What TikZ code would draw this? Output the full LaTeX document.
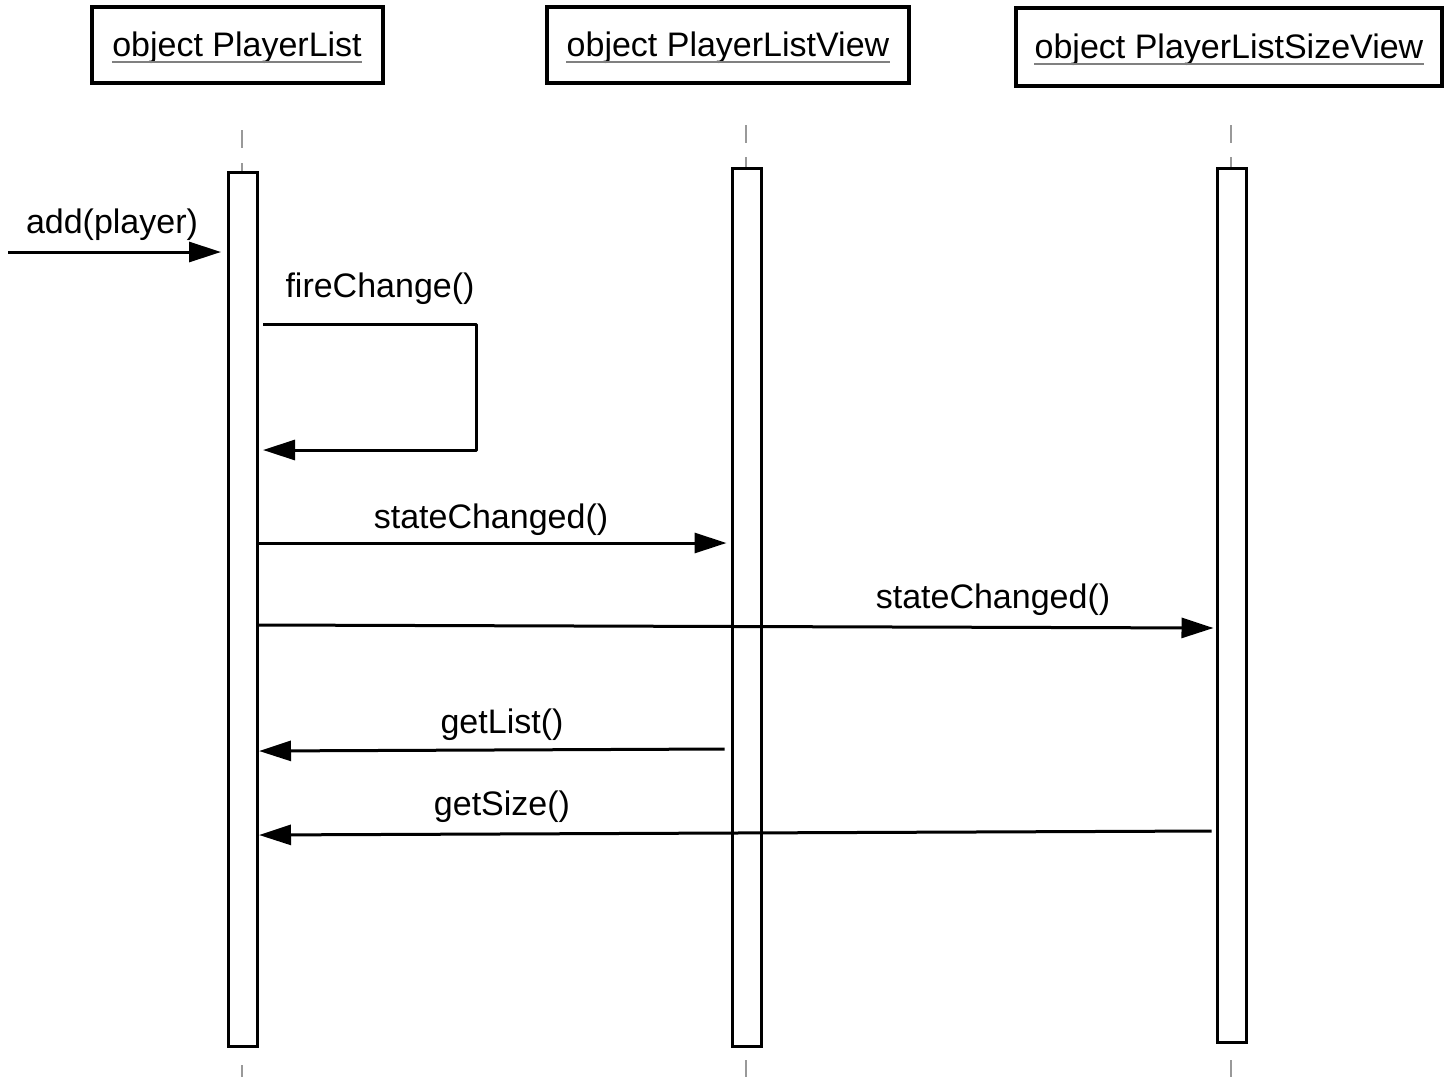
\documentclass[tikz,border=0pt]{standalone}
\usepackage{fontspec}
\setmainfont{Liberation Sans}
\usetikzlibrary{arrows.meta}

\begin{document}
\begin{tikzpicture}[x=0.5pt,y=-0.5pt,
  objbox/.style={draw, line width=1.6pt, minimum width=#1*0.5pt, minimum height=76*0.5pt, inner sep=0pt},
  objname/.style={anchor=base, inner sep=0pt, font=\fontsize{17}{20}\selectfont},
  uline/.style={draw=gray, line width=1pt},
  lifeline/.style={draw=gray!80, line width=0.9pt},
  actbox/.style={draw, fill=white, line width=1.5pt, minimum width=29*0.5pt, inner sep=0pt},
  msg/.style={line width=1.5pt, -{Triangle[length=16pt,width=10pt]}},
  lbl/.style={anchor=base, inner sep=0pt, font=\fontsize{17}{20}\selectfont}]
\useasboundingbox (0,0) rectangle (1452,1077);

% object headers
\node[objbox=291] (o1) at (237.5,45) {};
\node[objbox=362] (o2) at (728,45) {};
\node[objbox=426, minimum height=39pt] (o3) at (1229,47) {};
\node[objname] (n1) at (237,56) {object PlayerList};
\node[objname] (n2) at (728,56) {object PlayerListView};
\node[objname] (n3) at (1229,58) {object PlayerListSizeView};
\foreach \n in {n1,n2,n3}
  \draw[uline] ([yshift=-3pt]\n.base west) -- ([yshift=-3pt]\n.base east);

% lifelines (top and bottom dashes)
\coordinate (l1t) at (242,130); \coordinate (l1u) at (242,163);
\coordinate (l2t) at (746,125); \coordinate (l2u) at (746,157);
\coordinate (l3t) at (1231,125); \coordinate (l3u) at (1231,157);
\coordinate (l1b) at (242,1065); \coordinate (l1e) at (242,1077);
\coordinate (l2b) at (746,1060); \coordinate (l2e) at (746,1077);
\coordinate (l3b) at (1231,1060); \coordinate (l3e) at (1231,1077);
\draw[lifeline] (l1t) -- ++(0,18);
\draw[lifeline] (l2t) -- ++(0,18);
\draw[lifeline] (l3t) -- ++(0,18);
\draw[lifeline] (l1u) -- (242,180);
\draw[lifeline] (l2u) -- (746,175);
\draw[lifeline] (l3u) -- (1231,175);
\draw[lifeline] (l1b) -- (l1e);
\draw[lifeline] (l2b) -- (l2e);
\draw[lifeline] (l3b) -- (l3e);

% activation bars
\node[actbox, minimum height=874*0.5pt] (a1) at (243,609) {};
\node[actbox, minimum height=878*0.5pt] (a2) at (746.5,607) {};
\node[actbox, minimum height=874*0.5pt] (a3) at (1231.5,605) {};

% messages
\coordinate (start) at (8,252);
\draw[msg] (start) -- ([xshift=-3pt]a1.west |- 0,252);
\node[lbl] at (112,233) {add(player)};

\coordinate (loopA) at (476,324);
\coordinate (loopB) at (476,450);
\draw[msg, line join=round] ([xshift=2pt]a1.east |- 0,324) -- (loopA) -- (loopB) -- ([xshift=2pt]a1.east |- 0,450);
\node[lbl] at (380,297) {fireChange()};

\draw[msg] (a1.east |- 0,543) -- ([xshift=-2pt]a2.west |- 0,543);
\node[lbl] at (491,528) {stateChanged()};

\draw[msg] (a1.east |- 0,625) -- ([xshift=-1pt]a3.west |- 0,628);
\node[lbl] at (993,608) {stateChanged()};

\draw[msg] ([xshift=-3pt]a2.west |- 0,749) -- (a1.east |- 0,751);
\node[lbl] at (502,733) {getList()};

\draw[msg] ([xshift=-2pt]a3.west |- 0,831) -- (a1.east |- 0,835);
\node[lbl] at (502,815) {getSize()};
\end{tikzpicture}
\end{document}
